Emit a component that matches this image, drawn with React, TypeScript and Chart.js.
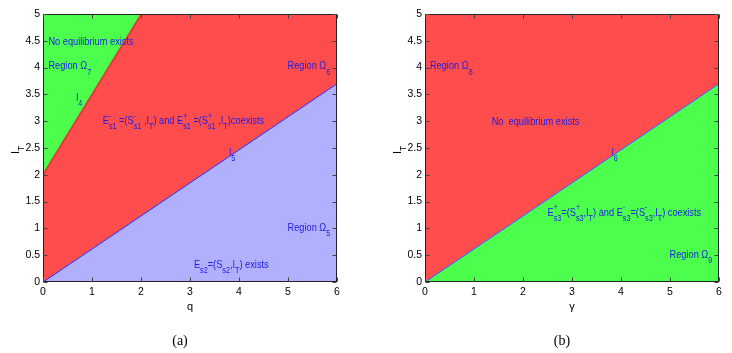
import React, { useEffect, useRef } from "react";
import { Chart, registerables } from "chart.js";
Chart.register(...registerables);

// ---- data ----
const X_MIN = 0, X_MAX = 6, X_STEP = 1;
const Y_MIN = 0, Y_MAX = 5, Y_STEP = 0.5;

const L4_X = [0, 2.01];
const L4_Y = [2, 5];
const L5_X = [0, 6];
const L5_Y = [0, 3.7];
const L6_X = [0, 6];
const L6_Y = [0, 3.7];

type Seg = { t?: string; sub?: string; sup?: string };
type Note = { x: number; y: number; segs: Seg[] };

const NOTES_A: Note[] = [
  { x: 0.11, y: 4.48, segs: [{ t: "No equilibrium exists" }] },
  { x: 0.11, y: 4.02, segs: [{ t: "Region Ω" }, { sub: "7" }] },
  { x: 0.68, y: 3.44, segs: [{ t: "l" }, { sub: "4" }] },
  {
    x: 1.22, y: 3.0,
    segs: [
      { t: "E" }, { sup: "-", sub: "s1" }, { t: " =(S" }, { sup: "-", sub: "s1" }, { t: " ,I" }, { sub: "T" },
      { t: ") and E" }, { sup: "+", sub: "s1" }, { t: " =(S" }, { sup: "+", sub: "s1" }, { t: " ,I" }, { sub: "T" },
      { t: ")coexists" },
    ],
  },
  { x: 4.99, y: 4.02, segs: [{ t: "Region Ω" }, { sub: "6" }] },
  { x: 3.8, y: 2.41, segs: [{ t: "l" }, { sub: "5" }] },
  { x: 4.99, y: 1.0, segs: [{ t: "Region Ω" }, { sub: "5" }] },
  {
    x: 3.08, y: 0.32,
    segs: [{ t: "E" }, { sub: "s2" }, { t: "=(S" }, { sub: "s2" }, { t: ",I" }, { sub: "T" }, { t: ") exists" }],
  },
];

const NOTES_B: Note[] = [
  { x: 0.1, y: 4.02, segs: [{ t: "Region Ω" }, { sub: "8" }] },
  { x: 1.36, y: 2.98, segs: [{ t: "No  equilibrium exists" }] },
  { x: 3.81, y: 2.41, segs: [{ t: "l" }, { sub: "6" }] },
  {
    x: 2.5, y: 1.29,
    segs: [
      { t: "E" }, { sup: "+", sub: "s3" }, { t: "=(S" }, { sup: "+", sub: "s3" }, { t: ",I" }, { sub: "T" },
      { t: ") and E" }, { sup: "-", sub: "s3" }, { t: "=(S" }, { sup: "-", sub: "s3" }, { t: ",I" }, { sub: "T" },
      { t: ") coexists" },
    ],
  },
  { x: 4.99, y: 0.51, segs: [{ t: "Region Ω" }, { sub: "9" }] },
];

const GREEN = "#4dff4d";
const RED = "#ff4d4d";
const LAVENDER = "#b0b0ff";
const TEXT_BLUE = "#1c1ce8";
const FONT = '"Liberation Sans", Arial, sans-serif';

function pts(xs: number[], ys: number[]) {
  return xs.map((x, i) => ({ x, y: ys[i] }));
}

function drawRich(ctx: CanvasRenderingContext2D, segs: Seg[], x: number, y: number, size: number, color: string, sx: number) {
  ctx.save();
  ctx.translate(x, y);
  ctx.scale(sx, 1);
  ctx.fillStyle = color;
  ctx.textBaseline = "middle";
  ctx.textAlign = "left";
  let cx = 0;
  const small = size * 0.78;
  for (const s of segs) {
    if (s.t !== undefined) {
      ctx.font = `${size}px ${FONT}`;
      ctx.fillText(s.t, cx, 0);
      cx += ctx.measureText(s.t).width;
    } else {
      ctx.font = `${small}px ${FONT}`;
      let w = 0;
      if (s.sup) {
        ctx.fillText(s.sup, cx, -size * 0.45);
        w = Math.max(w, ctx.measureText(s.sup).width);
      }
      if (s.sub) {
        ctx.fillText(s.sub, cx, size * 0.55);
        w = Math.max(w, ctx.measureText(s.sub).width);
      }
      cx += w;
    }
  }
  ctx.restore();
}

function makePlugin(notes: Note[], xlabel: string, caption: string) {
  return {
    id: "decor",
    afterDatasetsDraw(chart: any) {
      const ctx: CanvasRenderingContext2D = chart.ctx;
      const xs = chart.scales.x, ys = chart.scales.y;
      for (const n of notes) {
        drawRich(ctx, n.segs, xs.getPixelForValue(n.x), ys.getPixelForValue(n.y), 10.5, TEXT_BLUE, 0.88);
      }
    },
    afterDraw(chart: any) {
      const ctx: CanvasRenderingContext2D = chart.ctx;
      const a = chart.chartArea;
      const xs = chart.scales.x, ys = chart.scales.y;
      ctx.save();
      // box
      ctx.strokeStyle = "#222";
      ctx.lineWidth = 1;
      const L = Math.round(a.left) + 0.5, R = Math.round(a.right) - 0.5;
      const T = Math.round(a.top) + 0.5, B = Math.round(a.bottom) - 0.5;
      ctx.strokeRect(L, T, R - L, B - T);
      // inward ticks
      ctx.strokeStyle = "#444";
      const tl = 4;
      ctx.beginPath();
      for (let v = X_MIN; v <= X_MAX + 1e-9; v += X_STEP) {
        const px = Math.round(xs.getPixelForValue(v)) + 0.5;
        ctx.moveTo(px, B); ctx.lineTo(px, B - tl);
        ctx.moveTo(px, T); ctx.lineTo(px, T + tl);
      }
      for (let v = Y_MIN; v <= Y_MAX + 1e-9; v += Y_STEP) {
        const py = Math.round(ys.getPixelForValue(v)) + 0.5;
        ctx.moveTo(L, py); ctx.lineTo(L + tl, py);
        ctx.moveTo(R, py); ctx.lineTo(R - tl, py);
      }
      ctx.stroke();
      // axis labels
      ctx.fillStyle = "#000";
      ctx.textAlign = "center";
      ctx.textBaseline = "middle";
      ctx.font = `11px ${FONT}`;
      ctx.fillText(xlabel, (a.left + a.right) / 2, a.bottom + 24.5);
      // y label I_T rotated
      ctx.save();
      ctx.translate(a.left - 27, (a.top + a.bottom) / 2 + 2);
      ctx.rotate(-Math.PI / 2);
      drawRich(ctx, [{ t: "I" }, { sub: "T" }], -4, 0, 11, "#000", 1);
      ctx.restore();
      // caption
      ctx.font = `14px "Liberation Serif", "Times New Roman", serif`;
      ctx.fillStyle = "#000";
      ctx.textAlign = "center";
      ctx.fillText(caption, (a.left + a.right) / 2 - 10, a.bottom + 59.5);
      ctx.restore();
    },
  };
}

function scalesCfg() {
  return {
    x: {
      type: "linear" as const,
      min: X_MIN,
      max: X_MAX,
      grid: { display: false, drawTicks: false },
      border: { display: false },
      ticks: {
        stepSize: X_STEP, padding: 4, color: "#000", font: { family: FONT, size: 10.5 }, maxRotation: 0,
        callback: (v: any) => String(Number(v)),
      },
      afterFit: (s: any) => { s.height = 71; },
    },
    y: {
      type: "linear" as const,
      min: Y_MIN,
      max: Y_MAX,
      grid: { display: false, drawTicks: false },
      border: { display: false },
      ticks: {
        stepSize: Y_STEP, padding: 3, color: "#000", font: { family: FONT, size: 10.5 },
        callback: (v: any) => String(Number(v)),
      },
      afterFit: (s: any) => { s.width = 43; },
    },
  };
}

function ChartA() {
  const ref = useRef<HTMLCanvasElement>(null);
  useEffect(() => {
    const chart = new Chart(ref.current!, {
      type: "line",
      data: {
        datasets: [
          { data: pts(L4_X, L4_Y), fill: "end", backgroundColor: GREEN, borderColor: "#e23a3a", borderWidth: 2, pointRadius: 0 },
          { data: pts(L5_X, L5_Y), fill: "end", backgroundColor: RED, borderColor: "#3a3aff", borderWidth: 1, pointRadius: 0 },
          { data: pts(L5_X, L5_Y), fill: "start", backgroundColor: LAVENDER, borderColor: "#3a3aff", borderWidth: 1, pointRadius: 0 },
        ],
      },
      options: {
        responsive: false,
        animation: false,
        devicePixelRatio: 1,
        layout: { padding: { left: 0, right: 29, top: 14, bottom: 0 } },
        plugins: { legend: { display: false }, tooltip: { enabled: false } },
        scales: scalesCfg(),
      } as any,
      plugins: [makePlugin(NOTES_A, "q", "(a)")],
    });
    return () => chart.destroy();
  }, []);
  return <canvas ref={ref} width={366} height={353} style={{ position: "absolute", left: 0, top: 0 }} />;
}

function ChartB() {
  const ref = useRef<HTMLCanvasElement>(null);
  useEffect(() => {
    const chart = new Chart(ref.current!, {
      type: "line",
      data: {
        datasets: [
          { data: pts(L6_X, L6_Y), fill: "end", backgroundColor: RED, borderColor: "#3a6aff", borderWidth: 1, pointRadius: 0 },
          { data: pts(L6_X, L6_Y), fill: "start", backgroundColor: GREEN, borderColor: "#3a6aff", borderWidth: 1, pointRadius: 0 },
        ],
      },
      options: {
        responsive: false,
        animation: false,
        devicePixelRatio: 1,
        layout: { padding: { left: 16, right: 13, top: 14, bottom: 0 } },
        plugins: { legend: { display: false }, tooltip: { enabled: false } },
        scales: scalesCfg(),
      } as any,
      plugins: [makePlugin(NOTES_B, "γ", "(b)")],
    });
    return () => chart.destroy();
  }, []);
  return <canvas ref={ref} width={366} height={353} style={{ position: "absolute", left: 366, top: 0 }} />;
}

export default function App() {
  return (
    <div style={{ position: "fixed", left: 0, top: 0, width: 732, height: 353, background: "#fff", overflow: "hidden" }}>
      <ChartA />
      <ChartB />
    </div>
  );
}
